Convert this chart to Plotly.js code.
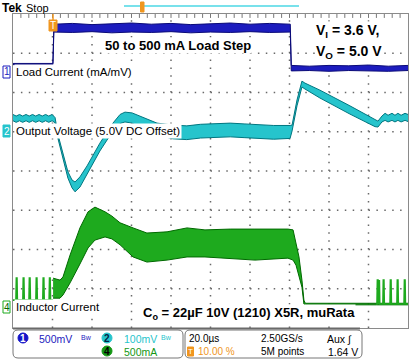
<!DOCTYPE html>
<html><head><meta charset="utf-8">
<script src="https://cdn.plot.ly/plotly-3.0.1.min.js"></script>
<style>html,body{margin:0;padding:0;background:#fff;}#plot{width:410px;height:361px;}</style>
</head><body><div id="plot"></div>
<script>
// ---- DATA (time in microseconds, 20 us/div; vertical in screen divisions) ----
// Channel 1: load current envelope
const t1 = [0, 20.2, 20.7, 30, 40, 50, 60, 70, 80, 90, 100, 110, 120, 130, 140.4, 140.9, 150, 160, 170, 180, 190, 200];
const ch1Upper = [6.74, 6.74, 7.74, 7.76, 7.73, 7.75, 7.77, 7.74, 7.76, 7.73, 7.75, 7.77, 7.74, 7.76, 7.74, 6.69, 6.67, 6.69, 6.68, 6.70, 6.67, 6.69];
const ch1Lower = [6.71, 6.71, 7.54, 7.53, 7.55, 7.52, 7.54, 7.53, 7.55, 7.52, 7.54, 7.53, 7.55, 7.53, 7.54, 6.55, 6.56, 6.54, 6.56, 6.55, 6.54, 6.56];

// Channel 2: output voltage envelope
const t2 = [0,1.6,3.3,4.9,6.6,8.2,9.9,11.5,13.2,14.8,16.5,18.1,19.8,21.3,22.8,25.3,27.8,29.9,31.4,33.9,37.5,44.0,50.6,54.2,56.7,60.3,64.3,72.9,81.0,88.0,95.0,102.0,110.0,117.0,125.0,132.0,140.3,141.3,143.8,146.3,147.8,155.4,170.6,183.3,184.8,186.8,188.4,189.9,191.9,193.4,194.9,196.5,198.5,200];
const ch2Upper = [5.44,5.40,5.44,5.40,5.44,5.40,5.44,5.40,5.44,5.40,5.44,5.40,5.44,5.36,4.92,4.42,3.98,3.77,3.72,3.85,4.13,4.71,5.22,5.44,5.50,5.48,5.40,5.22,5.17,5.15,5.19,5.21,5.22,5.20,5.17,5.16,5.16,5.17,5.81,6.29,6.24,6.06,5.66,5.31,5.27,5.40,5.47,5.42,5.47,5.42,5.47,5.42,5.47,5.44];
const ch2Lower = [5.28,5.24,5.28,5.24,5.28,5.24,5.28,5.24,5.28,5.24,5.28,5.24,5.28,5.23,4.82,4.29,3.82,3.57,3.47,3.59,3.92,4.51,5.02,5.21,5.25,5.22,5.10,4.92,4.82,4.80,4.84,4.86,4.87,4.85,4.82,4.81,4.83,5.02,5.66,6.14,6.09,5.86,5.45,5.13,5.12,5.25,5.29,5.25,5.29,5.25,5.29,5.25,5.29,5.26];

// Channel 4: inductor current envelope
const t4 = [20.3,23.8,25.3,28.9,33.9,38.0,41.5,46.6,50.1,54.2,60.8,67.8,78.0,88.1,97.2,110,122.5,139.2,141.8,143.3,144.8,146.3,147.3,148.0,184.0,200];
const ch4Upper = [1.27,1.22,1.30,1.86,2.55,2.96,3.08,2.96,2.85,2.68,2.55,2.42,2.45,2.55,2.50,2.52,2.52,2.52,2.50,2.15,1.81,1.22,0.71,0.63,0.63,0.63];
const ch4Lower = [0.76,0.76,0.84,1.15,1.63,2.04,2.24,2.32,2.27,2.12,1.81,1.68,1.73,1.81,1.81,1.76,1.73,1.78,1.73,1.60,1.35,1.04,0.61,0.59,0.59,0.59];
// discontinuous-mode pulses before and after the load step
const pulsePreTimes = [1.5, 5.0, 8.1, 11.6, 15.1, 18.3];
const pulsePostTimes = [184.3, 185.0, 187.3, 190.9, 194.4, 198.0];
const pulsePreBase = 0.71, pulsePreTop = 1.27;
const pulsePostBase = 0.61, pulsePostTop = 1.22;

// screen graticule: 10 x 8 divisions, 20 us per horizontal division
const divTimes = [20, 40, 60, 80, 100, 120, 140, 160, 180];
const divLevels = [1, 2, 3, 4, 5, 6, 7];

// ---- STYLE ----
const BLUE = 'rgb(28,28,190)', BLUE_D = 'rgb(10,10,120)';
const CYAN = 'rgb(38,196,204)', CYAN_D = 'rgb(0,118,128)';
const GREEN = 'rgb(30,170,30)', GREEN_D = 'rgb(0,105,0)';
const ORANGE = 'rgb(240,150,30)';
const GRID = 'rgb(105,105,105)';
const SANS = '"Liberation Sans",Arial,sans-serif';

function band(t, lo, hi, fill, edge) {
  return [
    {x: t, y: lo, mode: 'lines', line: {color: edge, width: 1}, hoverinfo: 'skip', showlegend: false},
    {x: t, y: hi, mode: 'lines', fill: 'tonexty', fillcolor: fill, line: {color: edge, width: 1}, hoverinfo: 'skip', showlegend: false}
  ];
}
function pulses(times, base, top, t0, t1e) {
  const x = [t0], y = [base];
  times.forEach(t => { x.push(t, t + 0.2, t + 0.5, t + 0.7); y.push(base, top, top, base); });
  x.push(t1e); y.push(base);
  return {x, y, mode: 'lines', line: {color: GREEN, width: 1.6}, hoverinfo: 'skip', showlegend: false};
}

// graticule traces (dotted division lines, ruler ticks on the top edge)
const gvx = [], gvy = [];
divTimes.forEach(t => { gvx.push(t, t, null); gvy.push(0, 8, null); });
const ghx = [], ghy = [];
divLevels.forEach(v => { ghx.push(0, 200, null); ghy.push(v, v, null); });
const rx = [], ry = [];
for (let k = 1; k < 50; k++) { rx.push(k * 4, k * 4, null); ry.push(8, 7.9, null); }

const traces = [
  {x: gvx, y: gvy, mode: 'lines', line: {color: GRID, width: 1.5, dash: '1.5px,6.35px'}, hoverinfo: 'skip', showlegend: false, connectgaps: false},
  {x: ghx, y: ghy, mode: 'lines', line: {color: GRID, width: 1.5, dash: '1.5px,6.4px'}, hoverinfo: 'skip', showlegend: false, connectgaps: false},
  {x: rx, y: ry, mode: 'lines', line: {color: 'rgb(120,120,120)', width: 1}, hoverinfo: 'skip', showlegend: false, connectgaps: false},
  pulses(pulsePreTimes, pulsePreBase, pulsePreTop, 0, 20.3),
  ...band(t4, ch4Lower, ch4Upper, GREEN, GREEN_D),
  pulses(pulsePostTimes, pulsePostBase, pulsePostTop, 184, 200),
  ...band(t2, ch2Lower, ch2Upper, CYAN, CYAN_D),
  ...band(t1, ch1Lower, ch1Upper, BLUE, BLUE_D)
];

// pixel -> paper helpers for decorations
const L = 13, R = 408, T = 14, B = 328;
const X = px => (px - L) / (R - L);
const Y = py => (B - py) / (B - T);

function txt(px, py, text, opts) {
  opts = opts || {};
  return Object.assign({
    x: X(px), y: Y(py), xref: 'paper', yref: 'paper', text: text, showarrow: false,
    xanchor: 'left', yanchor: 'middle',
    font: {family: SANS, size: opts.size || 10, color: opts.color || '#000', weight: opts.weight || 'normal'},
    bgcolor: opts.bg || 'rgba(0,0,0,0)', borderpad: opts.pad === undefined ? 0 : opts.pad
  }, opts.extra || {});
}

const annotations = [
  txt(1, 8, 'Tek', {size: 12, weight: 'bold'}),
  txt(25, 8, 'Stop', {size: 11}),
  txt(104, 46, '50 to 500 mA Load Step', {size: 13, weight: 'bold', bg: '#fff'}),
  txt(315, 31, 'V<sub>I</sub> = 3.6 V,', {size: 14, weight: 'bold', bg: '#fff'}),
  txt(315, 52, 'V<sub>O</sub> = 5.0 V', {size: 14, weight: 'bold', bg: '#fff'}),
  txt(14, 72, 'Load Current (mA/mV)', {size: 11.5, bg: '#fff', pad: 1}),
  txt(14, 131, 'Output Voltage (5.0V DC Offset)', {size: 11.5, bg: '#fff', pad: 1}),
  txt(14, 307, 'Inductor Current', {size: 11.5, bg: '#fff', pad: 1}),
  txt(142, 313, 'C<sub>o</sub> = 22µF 10V (1210) X5R, muRata', {size: 13, weight: 'bold', bg: '#fff'}),
  // channel markers
  txt(6.5, 72, '1', {size: 10, color: BLUE, extra: {xanchor: 'center'}}),
  txt(6.5, 131, '2', {size: 10, color: '#fff', extra: {xanchor: 'center'}}),
  txt(6.5, 307, '4', {size: 10, color: GREEN_D, extra: {xanchor: 'center'}}),
  txt(53, 26, 'T', {size: 10, color: '#fff', extra: {xanchor: 'center'}}),
  // status bar
  txt(23, 338.5, '1', {size: 10, color: '#fff', weight: 'bold', extra: {xanchor: 'center'}}),
  txt(38, 338.5, '500mV', {size: 10.5, color: BLUE}),
  txt(80, 337, 'Bw', {size: 7, color: BLUE}),
  txt(107, 338.5, '2', {size: 10, color: '#024', weight: 'bold', extra: {xanchor: 'center'}}),
  txt(123, 338.5, '100mV', {size: 10.5, color: CYAN}),
  txt(160, 337, 'Bw', {size: 7, color: CYAN}),
  txt(107, 351.5, '4', {size: 10, color: '#000', weight: 'bold', extra: {xanchor: 'center'}}),
  txt(123, 351.5, '500mA', {size: 10.5, color: 'rgb(20,150,20)'}),
  txt(188, 338.5, '20.0µs', {size: 10}),
  txt(197, 351.5, '10.00 %', {size: 10, color: ORANGE}),
  txt(190.5, 351.5, 'T', {size: 8, color: '#fff', extra: {xanchor: 'center'}}),
  txt(260, 338.5, '2.50GS/s', {size: 10}),
  txt(260, 351.5, '5M points', {size: 10}),
  txt(353, 338.5, 'Aux ∫', {size: 10.5, extra: {xanchor: 'right'}}),
  txt(359, 351.5, '1.64 V', {size: 10.5, extra: {xanchor: 'right'}})
];

function rrect(x0, y0, x1, y1, r, color) {
  const rxp = r / (R - L), ryp = r / (B - T);
  const a = X(x0), b = X(x1), c = Y(y0), d = Y(y1);
  const p = `M ${a + rxp},${c} L ${b - rxp},${c} Q ${b},${c} ${b},${c - ryp} L ${b},${d + ryp} Q ${b},${d} ${b - rxp},${d} L ${a + rxp},${d} Q ${a},${d} ${a},${d + ryp} L ${a},${c - ryp} Q ${a},${c} ${a + rxp},${c} Z`;
  return {type: 'path', xref: 'paper', yref: 'paper', path: p, line: {color: color, width: 1}};
}
function box(x0, y0, x1, y1, fill, line) {
  return {type: 'rect', xref: 'paper', yref: 'paper', x0: X(x0), x1: X(x1), y0: Y(y0), y1: Y(y1),
    fillcolor: fill, line: {color: line, width: 1}};
}
function circ(cx, cy, r, fill) {
  return {type: 'circle', xref: 'paper', yref: 'paper', x0: X(cx - r), x1: X(cx + r), y0: Y(cy + r), y1: Y(cy - r),
    fillcolor: fill, line: {color: fill, width: 1}};
}
function seg(x0, y0, x1, y1, color, w) {
  return {type: 'line', xref: 'paper', yref: 'paper', x0: X(x0), x1: X(x1), y0: Y(y0), y1: Y(y1),
    line: {color: color, width: w}};
}

const shapes = [
  seg(124, 6, 299, 6, 'rgb(120,225,235)', 2),
  box(140.5, 2, 144, 12, ORANGE, ORANGE),
  seg(53, 14, 53, 20, ORANGE, 1.5),
  box(49, 20, 57, 31, ORANGE, ORANGE),
  box(3, 66, 10, 78, '#fff', BLUE),
  box(3, 125, 10, 137, CYAN, CYAN),
  box(3, 301, 10, 313, '#fff', GREEN),
  seg(13, 328.5, 360, 328.5, '#6a6a6a', 2),
  rrect(13, 330, 183, 358, 5, '#777'),
  rrect(185, 330, 362, 358, 5, '#777'),
  circ(23, 338, 5, 'rgb(20,20,200)'),
  circ(107, 338, 5, CYAN),
  circ(107, 351, 5, 'rgb(20,150,20)'),
  box(187.5, 347, 193.5, 356, ORANGE, ORANGE)
];

const axisCommon = {
  showticklabels: false, zeroline: false, showline: true, linecolor: '#8a8a8a', linewidth: 1,
  mirror: true, ticks: '', showgrid: false, fixedrange: true
};
const layout = {
  width: 410, height: 361,
  margin: {l: 13, r: 2, t: 14, b: 33, pad: 0},
  paper_bgcolor: '#fff', plot_bgcolor: '#fff',
  showlegend: false,
  xaxis: Object.assign({}, axisCommon, {range: [0, 200]}),
  yaxis: Object.assign({}, axisCommon, {range: [0, 8]}),
  annotations: annotations,
  shapes: shapes
};
Plotly.newPlot('plot', traces, layout, {staticPlot: true, displayModeBar: false});
</script></body></html>
